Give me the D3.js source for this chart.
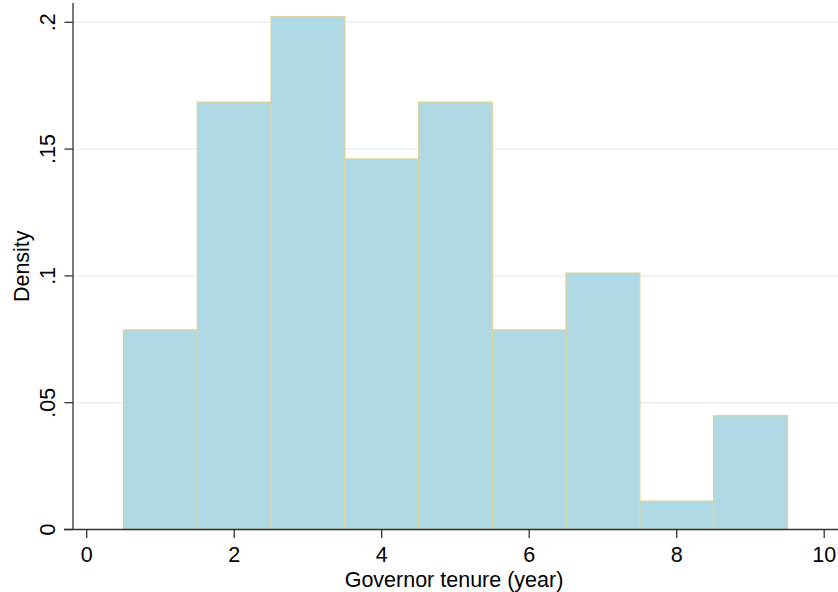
<!DOCTYPE html>
<html>
<head>
<meta charset="utf-8">
<script src="https://cdn.jsdelivr.net/npm/d3@7"></script>
<style>
  html, body { margin: 0; padding: 0; background: #fff; }
  svg { display: block; }
  text { font-family: "Liberation Sans", Arial, Helvetica, sans-serif; fill: #000; }
</style>
</head>
<body>
<svg id="chart" width="838" height="592"></svg>
<script>
// Histogram bins: lower / upper edges (years) and density of each bin
const binStart = [0.5, 1.5, 2.5, 3.5, 4.5, 5.5, 6.5, 7.5, 8.5];
const binEnd   = [1.5, 2.5, 3.5, 4.5, 5.5, 6.5, 7.5, 8.5, 9.5];
const density  = [0.0787, 0.1685, 0.2022, 0.1461, 0.1685, 0.0787, 0.1011, 0.0112, 0.0449];

// Axis ticks and their labels
const xTicks = [0, 2, 4, 6, 8, 10];
const yTicks = [0, 0.05, 0.1, 0.15, 0.2];
const yTickLabels = ["0", ".05", ".1", ".15", ".2"];

const xTitle = "Governor tenure (year)";
const yTitle = "Density";

const W = 838, H = 592;
const plotLeft = 73, plotRight = 838, plotTop = 3, plotBottom = 529.5;
const fontSize = "21.5px";

const svg = d3.select("#chart");

const x = d3.scaleLinear().domain([0, 10]).range([86.7, 824.2]);
const y = d3.scaleLinear().domain([0, 0.2]).range([529.5, 22.3]);

// Horizontal gridlines
svg.append("g")
  .selectAll("line")
  .data(yTicks.filter(d => d > 0))
  .join("line")
  .attr("x1", plotLeft).attr("x2", plotRight)
  .attr("y1", d => y(d)).attr("y2", d => y(d))
  .attr("stroke", "#e6edf3")
  .attr("stroke-width", 1.4);

// Bars
svg.append("g")
  .selectAll("rect")
  .data(density)
  .join("rect")
  .attr("x", (d, i) => x(binStart[i]))
  .attr("width", (d, i) => x(binEnd[i]) - x(binStart[i]))
  .attr("y", d => y(d))
  .attr("height", d => y(0) - y(d))
  .attr("fill", "#add8e4")
  .attr("stroke", "#dbd3a0")
  .attr("stroke-width", 1.4);

// X axis
const xAxis = svg.append("g").attr("transform", `translate(0,${plotBottom})`);
xAxis.append("line")
  .attr("x1", 64).attr("x2", plotRight)
  .attr("y1", 0).attr("y2", 0)
  .attr("stroke", "#333").attr("stroke-width", 1.3);
xAxis.selectAll(".xtick")
  .data(xTicks)
  .join("line")
  .attr("class", "xtick")
  .attr("x1", d => x(d)).attr("x2", d => x(d))
  .attr("y1", 0).attr("y2", 8.5)
  .attr("stroke", "#333").attr("stroke-width", 1.3);
xAxis.selectAll(".xlab")
  .data(xTicks)
  .join("text")
  .attr("class", "xlab")
  .attr("x", d => x(d))
  .attr("y", 32.3)
  .attr("text-anchor", "middle")
  .style("font-size", fontSize)
  .text(d => d);

// Y axis
const yAxis = svg.append("g").attr("transform", `translate(${plotLeft},0)`);
yAxis.append("line")
  .attr("x1", 0).attr("x2", 0)
  .attr("y1", plotTop).attr("y2", plotBottom)
  .attr("stroke", "#333").attr("stroke-width", 1.3);
yAxis.selectAll(".ytick")
  .data(yTicks)
  .join("line")
  .attr("class", "ytick")
  .attr("x1", -8.5).attr("x2", 0)
  .attr("y1", d => y(d)).attr("y2", d => y(d))
  .attr("stroke", "#333").attr("stroke-width", 1.3);
yAxis.selectAll(".ylab")
  .data(yTicks)
  .join("text")
  .attr("class", "ylab")
  .attr("transform", d => `translate(-18.5,${y(d)}) rotate(-90)`)
  .attr("text-anchor", "middle")
  .style("font-size", fontSize)
  .text((d, i) => yTickLabels[i]);

// Axis titles
svg.append("text")
  .attr("x", 454)
  .attr("y", 586.5)
  .attr("text-anchor", "middle")
  .style("font-size", fontSize)
  .text(xTitle);

svg.append("text")
  .attr("transform", `translate(28.5,${(plotTop + plotBottom) / 2}) rotate(-90)`)
  .attr("text-anchor", "middle")
  .style("font-size", fontSize)
  .text(yTitle);
</script>
</body>
</html>
